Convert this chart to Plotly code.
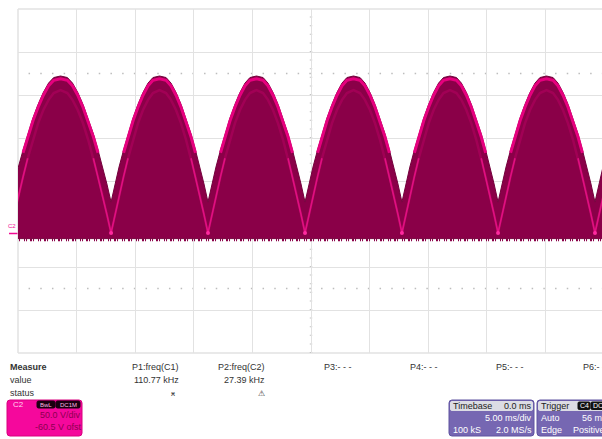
import plotly.graph_objects as go

# ---------------- data read from the screen ----------------
# trough times of the rectified waveform (ms, 5 ms/div, centre = 0)
trough_ms = [-25.68, -17.06, -8.79, -0.51, 7.76, 15.96, 24.23, 32.51]
# one hump profile (offset from its left trough, ms)
hump_off_ms = [0, 0.34, 0.68, 1.07, 1.45, 1.88, 2.30, 2.73, 3.16, 3.58, 4.14,
               4.70, 5.12, 5.55, 5.98, 6.40, 6.83, 7.21, 7.60, 7.94, 8.28]
# outer (filled) envelope, volts
hump_env_v = [36.0, 57.0, 76.7, 96.5, 115.1, 133.7, 149.5, 163.5, 174.4, 180.8, 182.6,
              180.8, 174.4, 163.5, 149.5, 133.7, 115.1, 96.5, 76.7, 57.0, 36.0]
# inner brighter trace (true rectified envelope), volts
hump_inner_v = [0, 21.5, 42.6, 65.5, 87.0, 108.7, 127.6, 143.1, 154.9, 162.7, 166.3,
                162.7, 154.9, 143.1, 127.6, 108.7, 87.0, 65.5, 42.6, 21.5, 0]
baseline_v = -6.5

# measurement / setup labels
meas_rows = ["Measure", "value", "status"]
p_labels = ["P1:freq(C1)", "P2:freq(C2)", "P3:- - -", "P4:- - -", "P5:- - -", "P6:- - -"]
p_values = ["110.77 kHz", "27.39 kHz"]
p_status = ["ӿ", "⚠"]

W, H = 602, 439
DARK = "#8a0048"
BRIGHT = "#e6007e"
PINK = "#f20a94"

def px(x):
    return x / W

def py(y):
    return 1 - y / H

# ---------------- build waveform from the read values ----------------
up_t, up_v = [], []
edge_t, edge_v = [], []
inn_t, inn_v = [], []
vt_t, vt_v = [], []
n = len(hump_off_ms)
period_ref = hump_off_ms[-1]
for i in range(len(trough_ms) - 1):
    t0, t1 = trough_ms[i], trough_ms[i + 1]
    ts = [t0 + o / period_ref * (t1 - t0) for o in hump_off_ms]
    for k in range(n):
        up_t.append(ts[k]); up_v.append(hump_env_v[k])
    for k in range(3, n - 3):
        edge_t.append(ts[k]); edge_v.append(hump_env_v[k] - 3.2)
    edge_t.append(None); edge_v.append(None)
    for k in range(n):
        inn_t.append(ts[k]); inn_v.append(hump_inner_v[k])
    inn_t.append(None); inn_v.append(None)
    for k in range(0, 5):
        vt_t.append(ts[k]); vt_v.append(hump_inner_v[k])
    vt_t.append(None); vt_v.append(None)
    for k in range(n - 5, n):
        vt_t.append(ts[k]); vt_v.append(hump_inner_v[k])
    vt_t.append(None); vt_v.append(None)

poly_t = up_t + [up_t[-1], up_t[0]]
poly_v = up_v + [baseline_v, baseline_v]

fig = go.Figure()

fig.add_trace(go.Scatter(x=[trough_ms[0], trough_ms[-1]], y=[baseline_v - 1.6, baseline_v - 1.6],
                         mode="lines",
                         line=dict(color=DARK, width=2.5, dash="1px,1px,1px,3px,2px,1px,1px,4px"),
                         hoverinfo="skip"))
fig.add_trace(go.Scatter(x=poly_t, y=poly_v, mode="lines", fill="toself", fillcolor=DARK,
                         line=dict(color="#74003c", width=1), hoverinfo="skip"))
fig.add_trace(go.Scatter(x=inn_t, y=inn_v, mode="lines",
                         line=dict(color="rgba(215,0,115,0.3)", width=2.5), hoverinfo="skip"))
fig.add_trace(go.Scatter(x=vt_t, y=vt_v, mode="lines",
                         line=dict(color="rgba(240,20,140,0.8)", width=1.6), hoverinfo="skip"))
fig.add_trace(go.Scatter(x=edge_t, y=edge_v, mode="lines",
                         line=dict(color=BRIGHT, width=3), hoverinfo="skip"))
fig.add_trace(go.Scatter(x=trough_ms, y=[0] * len(trough_ms), mode="markers",
                         marker=dict(color="#ff2aa0", size=4), hoverinfo="skip"))
fig.add_trace(go.Scatter(x=[0], y=[-143.6], mode="markers", cliponaxis=False,
                         marker=dict(symbol="triangle-up", size=8, color=PINK), hoverinfo="skip"))

GRID = "#e2e2e2"
fig.update_layout(
    width=W, height=H, margin=dict(l=0, r=0, t=0, b=0),
    paper_bgcolor="white", plot_bgcolor="white", showlegend=False,
    xaxis=dict(domain=[px(18), 1], range=[-25, 24.83], dtick=5, tick0=0,
               showgrid=True, gridcolor=GRID, gridwidth=1.3, zeroline=False,
               showticklabels=False, ticks="", fixedrange=True),
    yaxis=dict(domain=[py(353), py(9)], range=[-139.5, 260.5], dtick=50, tick0=60.5,
               showgrid=True, gridcolor=GRID, gridwidth=1.3, zeroline=False,
               showticklabels=False, ticks="", fixedrange=True),
    font=dict(family="Liberation Sans, Arial", size=9, color="#333333"),
)

shapes = []
for (x0, y0, x1, y1) in [(18, 9, 602, 9), (18, 353, 602, 353), (18, 9, 18, 353)]:
    shapes.append(dict(type="line", xref="paper", yref="paper", x0=px(x0), y0=py(y0),
                       x1=px(x1), y1=py(y1), line=dict(color=GRID, width=1.5), layer="below"))
for yv in [185.5, -64.5]:
    shapes.append(dict(type="line", xref="x", yref="y", x0=-24.1, x1=24.83, y0=yv, y1=yv,
                       line=dict(color="#bdbdbd", width=1.5, dash="1.5px,10.2px"), layer="below"))
shapes.append(dict(type="line", xref="x", yref="y", x0=0, x1=0, y0=-139.5, y1=260.5,
                   line=dict(color="#c4c4c4", width=2.5, dash="1px,7.6px"), layer="below"))
shapes.append(dict(type="line", xref="paper", yref="paper", x0=px(9), x1=px(17.5),
                   y0=py(233.5), y1=py(233.5), line=dict(color=PINK, width=1.5)))


def rrect(x0, y0, x1, y1, r, color, line=None):
    p = (f"M {px(x0 + r)},{py(y0)} L {px(x1 - r)},{py(y0)} Q {px(x1)},{py(y0)} {px(x1)},{py(y0 + r)} "
         f"L {px(x1)},{py(y1 - r)} Q {px(x1)},{py(y1)} {px(x1 - r)},{py(y1)} "
         f"L {px(x0 + r)},{py(y1)} Q {px(x0)},{py(y1)} {px(x0)},{py(y1 - r)} "
         f"L {px(x0)},{py(y0 + r)} Q {px(x0)},{py(y0)} {px(x0 + r)},{py(y0)} Z")
    return dict(type="path", xref="paper", yref="paper", path=p, fillcolor=color,
                line=dict(color=line or color, width=1))

PURPLE = "#7667b2"
HEAD = "#dcdce4"
shapes.append(rrect(7, 400, 82, 436, 3, "#f5089c", "#d8007f"))
shapes.append(rrect(37, 401, 55, 408, 1.5, "#1a0010"))
shapes.append(rrect(56, 401, 80, 408, 1.5, "#1a0010"))
shapes.append(rrect(449, 400, 534, 436, 3, PURPLE, "#5f52a0"))
shapes.append(rrect(450.5, 401.5, 532.5, 410.5, 1.5, HEAD))
shapes.append(rrect(537, 400, 640, 436, 3, PURPLE, "#5f52a0"))
shapes.append(rrect(538.5, 401.5, 620, 410.5, 1.5, HEAD))
shapes.append(rrect(578, 402, 590, 409.5, 1.2, "#111111"))
shapes.append(rrect(591, 402, 610, 409.5, 1.2, "#111111"))
fig.update_layout(shapes=shapes)

anns = []


def ann(text, x, y, anchor="left", size=9, color="#333333", bold=False):
    if bold:
        text = f"<b>{text}</b>"
    anns.append(dict(text=text, x=px(x), y=py(y), xref="paper", yref="paper",
                     xanchor=anchor, yanchor="middle", showarrow=False,
                     font=dict(size=size, color=color, family="Liberation Sans, Arial")))


ann(meas_rows[0], 8, 367, bold=True)
ann(meas_rows[1], 8, 380)
ann(meas_rows[2], 8, 393)
ann(p_labels[0], 181, 367, "right")
ann(p_values[0], 181, 380, "right")
ann(p_status[0], 173, 393, "center", 8)
ann(p_labels[1], 267, 367, "right")
ann(p_values[1], 267, 380, "right")
ann(p_status[1], 261, 393, "center", 8)
ann(p_labels[2], 322, 367)
ann(p_labels[3], 408, 367)
ann(p_labels[4], 494, 367)
ann(p_labels[5], 581, 367)

ann("C2", 12, 226, "center", 6, PINK)

ann("C2", 11, 404.5, "left", 8, "#ffd6ee")
ann("BwL", 46, 404.8, "center", 6, "#ffb8e0")
ann("DC1M", 68, 404.8, "center", 6, "#ffb8e0")
ann("50.0 V/div", 83, 415, "right", 9, "#8c0050")
ann("-60.5 V ofst", 84, 427, "right", 9, "#8c0050")

ann("Timebase", 451, 406, "left", 9, "#222222")
ann("0.0 ms", 534, 406, "right", 9, "#222222")
ann("5.00 ms/div", 534, 418, "right", 9, "white")
ann("100 kS", 451, 430, "left", 9, "white")
ann("2.0 MS/s", 534, 430, "right", 9, "white")
ann("Trigger", 539, 406, "left", 9, "#222222")
ann("C4", 584, 405.8, "center", 7, "white")
ann("DC", 598, 405.8, "center", 7, "white")
ann("Auto", 539, 418, "left", 9, "white")
ann("56 mV", 610, 418, "right", 9, "white")
ann("Edge", 539, 430, "left", 9, "white")
ann("Positive", 607, 430, "right", 9, "white")

fig.update_layout(annotations=anns)
fig.write_html("out.html", config={"displayModeBar": False},
               post_script="document.body.style.margin='0';document.body.style.overflow='hidden';")
